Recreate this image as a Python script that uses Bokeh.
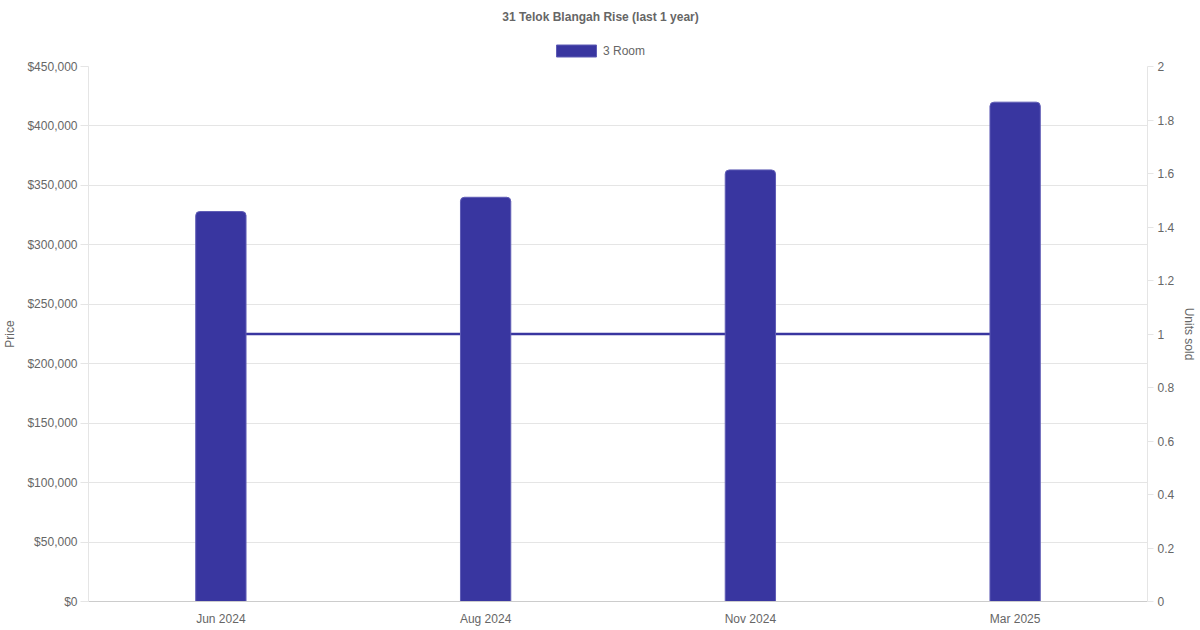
from bokeh.plotting import figure
from bokeh.layouts import column
from bokeh.models import (Range1d, FactorRange, LinearAxis, FixedTicker,
                          NumeralTickFormatter, Legend, LegendItem, Label)
from bokeh.embed import file_html
from bokeh.resources import INLINE

months = ["Jun 2024", "Aug 2024", "Nov 2024", "Mar 2025"]
prices = [328000, 340000, 363000, 420000]
units_sold = [1, 1, 1, 1]
price_ticks = [0, 50000, 100000, 150000, 200000, 250000, 300000, 350000, 400000, 450000]
unit_ticks = [0, 0.2, 0.4, 0.6, 0.8, 1, 1.2, 1.4, 1.6, 1.8, 2]
unit_labels = ["0", "0.2", "0.4", "0.6", "0.8", "1", "1.2", "1.4", "1.6", "1.8", "2"]
title_text = "31 Telok Blangah Rise (last 1 year)"
series_name = "3 Room"

BAR = "#3936a0"
BAR_EDGE = "#5f5cb5"
GREY = "#666666"
GRID = "#e5e5e5"
FONT = "Liberation Sans"

# header strip: title + legend. column() lines its frame up with the chart's
# frame (left edge at 88px), so screen x below is measured from there
head = figure(width=1200, height=58, x_range=Range1d(0, 1), y_range=Range1d(0, 1),
              title=None, output_backend="svg", toolbar_location=None,
              x_axis_location=None, y_axis_location=None, min_border=0)
head.outline_line_color = None
head.grid.grid_line_color = None
head.add_layout(Label(x=512, y=42, x_units="screen", y_units="screen", text=title_text,
                      text_font=FONT, text_font_size="12px", text_font_style="bold",
                      text_color=GREY, text_align="center", text_baseline="middle"))
# hidden stand-in so the legend has a bar swatch to draw
key = head.vbar(x=[0.5], top=[1], width=0.1, fill_color=BAR, line_color=BAR_EDGE,
                visible=False)
# bokeh insets area swatches by 10%, so 50x15 gives a 40x12 box
head.add_layout(Legend(items=[LegendItem(label=series_name, renderers=[key])],
                       location=(463, 0), orientation="horizontal",
                       glyph_width=50, glyph_height=15, label_height=12,
                       label_standoff=2, padding=0, margin=0, spacing=0,
                       border_line_color=None, background_fill_alpha=0,
                       inactive_fill_alpha=0,
                       label_text_font=FONT, label_text_font_size="12px",
                       label_text_color=GREY))

p = figure(width=1200, height=572, x_range=FactorRange(*months),
           y_range=Range1d(0, 450000), title=None, output_backend="svg",
           toolbar_location=None, min_border_left=88, min_border_right=53,
           min_border_top=8, min_border_bottom=29)
p.extra_y_ranges = {"units": Range1d(0, 2)}
p.outline_line_color = None

# line first so it sits under the bars
p.line(x=months, y=units_sold, y_range_name="units", line_width=2.5, line_color=BAR)
p.vbar(x=months, top=prices, width=0.19, fill_color=BAR,
       line_color=BAR_EDGE, line_width=1, border_radius=(4, 4, 0, 0))

p.xgrid.grid_line_color = None
p.ygrid.grid_line_color = GRID
p.ygrid.ticker = FixedTicker(ticks=price_ticks)

ax = p.yaxis[0]
ax.ticker = FixedTicker(ticks=price_ticks)
ax.formatter = NumeralTickFormatter(format="$0,0")
ax.axis_label = "Price"
ax.axis_label_standoff = 7
ax.axis_line_color = GRID
ax.major_tick_line_color = GRID
ax.major_tick_out = 8
ax.major_tick_in = 0
ax.minor_tick_line_color = None
ax.major_label_standoff = 3

bx = p.xaxis[0]
bx.axis_line_color = "#cccccc"
bx.major_tick_line_color = None
bx.minor_tick_line_color = None
bx.major_label_standoff = 4

rx = LinearAxis(y_range_name="units", ticker=FixedTicker(ticks=unit_ticks),
                major_label_overrides=dict(zip(unit_ticks, unit_labels)),
                axis_label="Units sold")
rx.axis_label_standoff = 5
rx.axis_line_color = GRID
rx.major_tick_line_color = GRID
rx.major_tick_out = 6
rx.major_tick_in = 0
rx.minor_tick_line_color = None
rx.major_label_standoff = 4
p.add_layout(rx, "right")

for a in [ax, bx, rx]:
    a.major_label_text_font = FONT
    a.major_label_text_font_size = "12px"
    a.major_label_text_color = GREY
    a.axis_label_text_font = FONT
    a.axis_label_text_font_size = "12px"
    a.axis_label_text_font_style = "normal"
    a.axis_label_text_color = GREY

layout = column(head, p, spacing=0)
open("out.html", "w").write(file_html(layout, INLINE))
